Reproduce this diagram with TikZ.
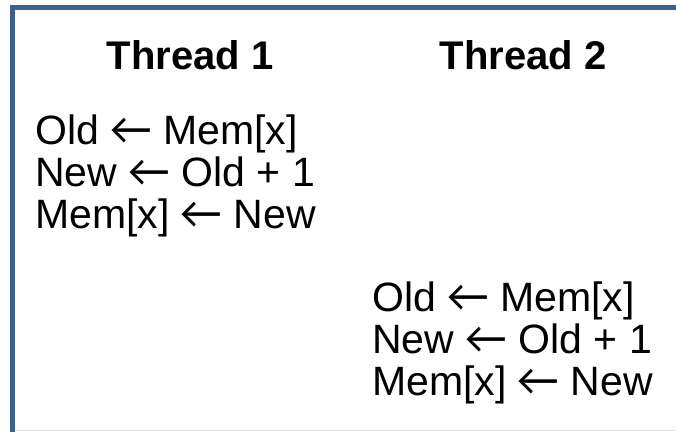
\documentclass[tikz,border=0pt]{standalone}
\usepackage{fontspec}
\setmainfont{Liberation Sans}
\newfontfamily\arrowfont{Carlito}
\newcommand\lftarr{{\arrowfont\scalebox{1.12}{←}}}
\definecolor{framecol}{RGB}{59,96,145}
\definecolor{rulecol}{RGB}{225,225,225}
\begin{document}
\begin{tikzpicture}[x=1pt,y=-1pt,
  head/.style={font=\fontsize{40}{48}\selectfont\bfseries, inner sep=0pt, anchor=base},
  code/.style={font=\fontsize{41}{42}\selectfont, inner sep=0pt, anchor=base west},
  frame/.style={draw=framecol, line width=5pt}]
\useasboundingbox (0,0) rectangle (676,432);
% open frame: top and left edges
\draw[frame] (676,7.5) -- (12.5,7.5) -- (12.5,432);
\draw[rulecol, line width=1pt] (15,430.5) -- (676,430.5);
% column headings
\node[head] (h1) at (190,69) {Thread 1};
\node[head] (h2) at (523,69) {Thread 2};
% thread 1 steps
\node[code] (t1a) at (35,144) {Old \lftarr\ Mem[x]};
\node[code] (t1b) at (35,186) {New \lftarr\ Old + 1};
\node[code] (t1c) at (35,228) {Mem[x] \lftarr\ New};
% thread 2 steps
\node[code] (t2a) at (372,311) {Old \lftarr\ Mem[x]};
\node[code] (t2b) at (372,353) {New \lftarr\ Old + 1};
\node[code] (t2c) at (372,395) {Mem[x] \lftarr\ New};
\end{tikzpicture}
\end{document}
